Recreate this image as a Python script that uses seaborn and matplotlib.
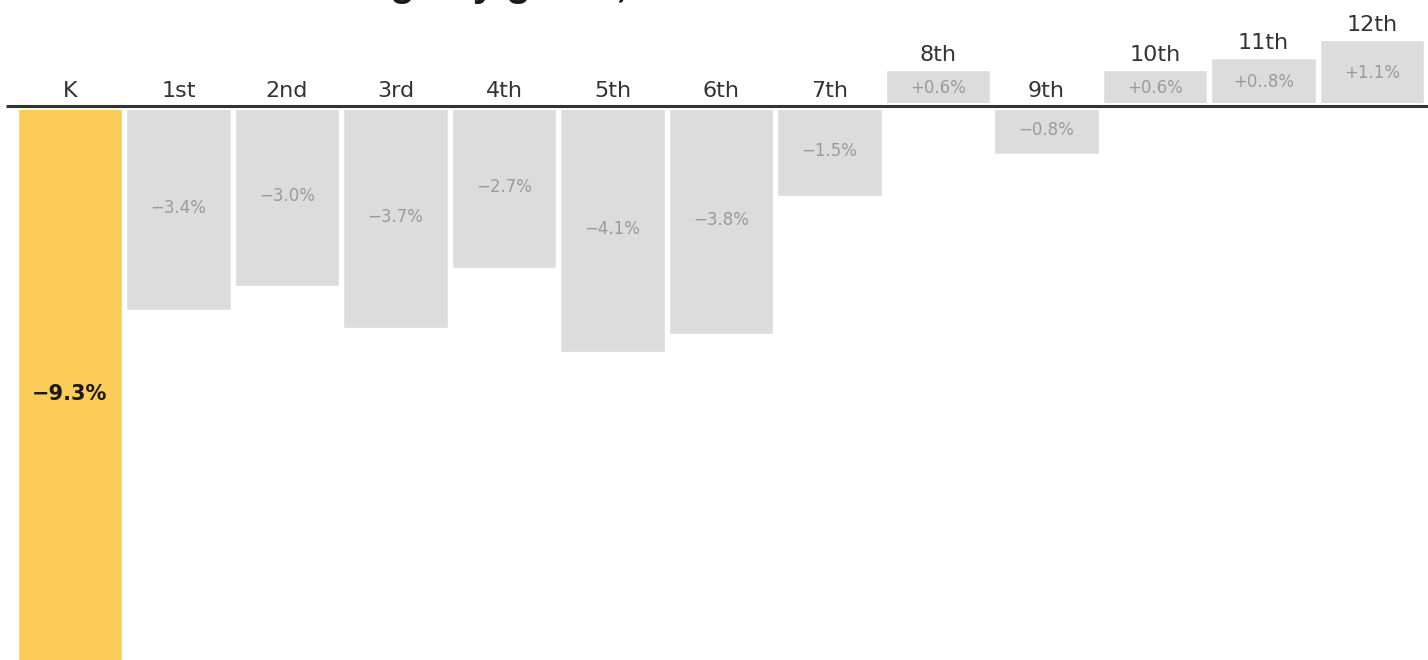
import matplotlib
matplotlib.use("Agg")
import matplotlib.pyplot as plt
import pandas as pd
import seaborn as sns

grades = ["K", "1st", "2nd", "3rd", "4th", "5th", "6th", "7th", "8th", "9th", "10th", "11th", "12th"]
change = [-9.3, -3.4, -3.0, -3.7, -2.7, -4.1, -3.8, -1.5, 0.6, -0.8, 0.6, 0.8, 1.1]
value_labels = ["\u22129.3%", "\u22123.4%", "\u22123.0%", "\u22123.7%", "\u22122.7%", "\u22124.1%",
                "\u22123.8%", "\u22121.5%", "+0.6%", "\u22120.8%", "+0.6%", "+0..8%", "+1.1%"]
title = "Enrollment change by grade, 2019 to 2020"

df = pd.DataFrame({"grade": grades, "change": change})
colors = {g: "#dcdcdc" for g in grades}
colors["K"] = "#fccc58"

sns.set_style("white")
plt.rcParams["font.family"] = ["DejaVu Sans"]

fig = plt.figure(figsize=(14.28, 6.6), dpi=100)
ax = fig.add_axes([0, 0, 1, 1])

sns.barplot(data=df, x="grade", y="change", hue="grade", palette=colors,
            width=0.96, legend=False, ax=ax, saturation=1)

# baseline: white gap around a dark rule
ax.axhline(0, xmin=0.0, xmax=1, color="white", lw=5, zorder=3)
ax.plot([-0.59, 12.6], [0, 0], color="#333333", lw=2.2, zorder=4, solid_capstyle="butt")

for i, (g, v, lab) in enumerate(zip(grades, change, value_labels)):
    top = max(v, 0)
    ax.annotate(g, (i, top), xytext=(0, 6.5), textcoords="offset points",
                ha="center", va="baseline", fontsize=16, color="#333333")
    if i == 0:
        ax.text(i, v / 2 - 0.15, lab, ha="center", va="center", fontsize=15,
                fontweight="bold", color="#1a1a1a", zorder=5)
    else:
        ax.text(i, v / 2, lab, ha="center", va="center", fontsize=12,
                color="#9a9a9a", zorder=5)

ax.set_xlim(-0.645, 12.516)
ax.set_ylim(-9.23, 1.77)
ax.axis("off")

# title, mostly clipped off the top edge (only descenders show in the reference)
tkw = dict(ha="left", va="baseline", fontsize=29, fontweight="bold",
           family=["Liberation Sans", "DejaVu Sans"], color="#1a1a1a")
probe = fig.text(0, 0, "Enrollment chan", **tkw)
fig.canvas.draw()
pw = probe.get_window_extent().width
probe.remove()
fig.text((390 - pw) / 1428, 1 + 3.5 / 660, title, **tkw)

fig.savefig("out.png", dpi=100, facecolor="white")
